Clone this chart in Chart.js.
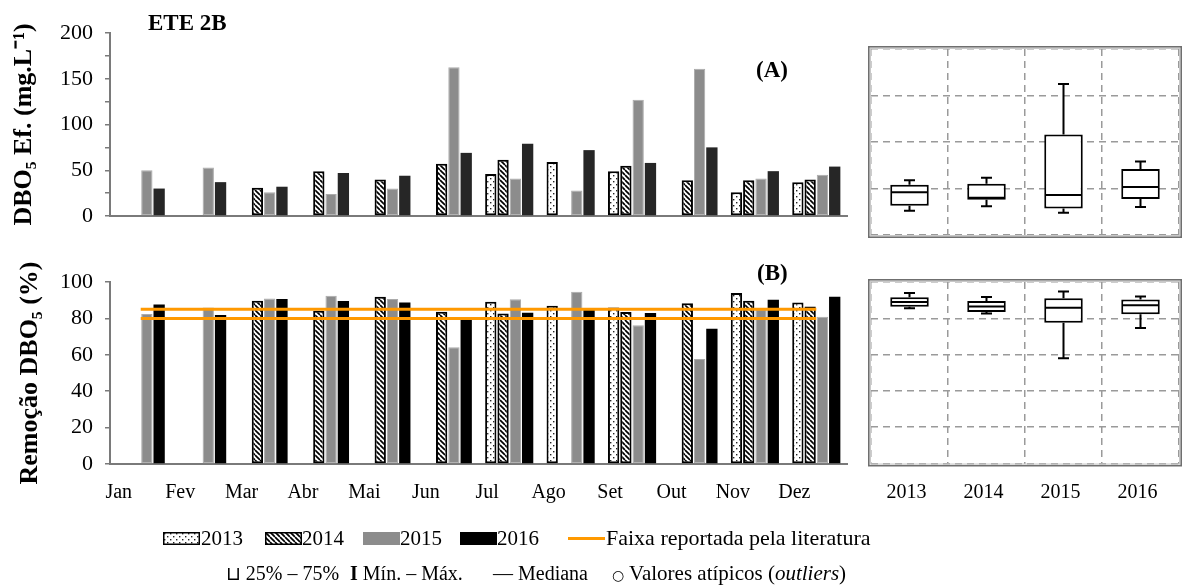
<!DOCTYPE html>
<html><head><meta charset="utf-8">
<script src="https://cdn.jsdelivr.net/npm/chart.js@4.4.1/dist/chart.umd.min.js"></script>
<style>
html,body{margin:0;padding:0;background:#fff;width:1182px;height:587px;overflow:hidden;}
canvas.full{position:absolute;left:0;top:0;width:1182px;height:587px;}
.t{position:absolute;font-family:'Liberation Serif','Times New Roman',serif;color:#000;white-space:nowrap;font-size:21px;line-height:24px;}
.b{font-weight:bold;font-size:23px;}
canvas.sw{position:absolute;}
</style></head><body>
<canvas id="cA" class="full" width="1182" height="587"></canvas>
<canvas id="cB" class="full" width="1182" height="587"></canvas>
<canvas id="cBoxA" class="full" width="1182" height="587"></canvas>
<canvas id="cBoxB" class="full" width="1182" height="587"></canvas>
<div class="t b" style="left:148px;top:11px;">ETE 2B</div>
<div class="t b" style="left:756px;top:58px;">(A)</div>
<div class="t b" style="left:757px;top:261px;">(B)</div>

<canvas class="sw" id="sw13" width="37" height="13" style="left:163px;top:532px;"></canvas>
<div class="t" style="left:201px;top:526px;">2013</div>
<canvas class="sw" id="sw14" width="37" height="13" style="left:265px;top:532px;"></canvas>
<div class="t" style="left:302px;top:526px;">2014</div>
<canvas class="sw" id="sw15" width="37" height="13" style="left:363px;top:532px;"></canvas>
<div class="t" style="left:400px;top:526px;">2015</div>
<canvas class="sw" id="sw16" width="37" height="13" style="left:460px;top:532px;"></canvas>
<div class="t" style="left:497px;top:526px;">2016</div>
<div style="position:absolute;left:568px;top:537px;width:37px;height:3px;background:#FF9900;"></div>
<div class="t" style="left:606px;top:526px;font-size:22px;">Faixa reportada pela literatura</div>

<div class="t" style="left:226px;top:561px;font-size:20px;"><span style="font-family:'DejaVu Sans';font-size:19px;">⊔</span> 25% – 75%</div>
<div class="t" style="left:350px;top:561px;font-size:20px;"><b>I</b> Mín. – Máx.</div>
<div class="t" style="left:493px;top:561px;font-size:20px;">— Mediana</div>
<div class="t" style="left:612px;top:561px;font-size:21px;"><span style="font-family:'DejaVu Sans';font-size:14px;">○</span> Valores atípicos (<i>outliers</i>)</div>

<script>
// ---------- DATA ----------
const months = ['Jan','Fev','Mar','Abr','Mai','Jun','Jul','Ago','Set','Out','Nov','Dez'];
const years = ['2013','2014','2015','2016'];

// (A) DBO5 efluente (mg/L)
const dbo2013 = [null,null,null,null,null,null,46,59,49,null,26,37];
const dbo2014 = [null,null,31,49,40,57,61.5,null,55,39,39,40];
const dbo2015 = [50,53,26,24,30,162.5,41,28,127,161,41,45];
const dbo2016 = [30,37,32,47,44,69,79,72,58,75,49,54];

// (B) Remoção DBO5 (%)
const rem2013 = [null,null,null,null,null,null,89.1,86.9,86,null,93.9,88.8];
const rem2014 = [null,null,89.7,84.2,91.9,83.6,82.7,null,83.5,88.3,89.7,86.6];
const rem2015 = [82.4,86,91,92.5,90.6,64.2,90.5,94.7,76.3,57.7,85,80.9];
const rem2016 = [87.7,81.8,90.6,89.5,88.8,79.4,83.1,85.5,82.9,74.3,90.3,91.9];
const litUpper = [85,85,85,85,85,85,85,85,85,85,85,85];
const litLower = [80,80,80,80,80,80,80,80,80,80,80,80];

// Box plots (A)
const boxA_min = [26,31,24,30];
const boxA_q1  = [31.5,38,28.5,38.8];
const boxA_med = [46,40,43,51.5];
const boxA_q3  = [54,55,108,71];
const boxA_max = [59,61.5,162.5,79];
// Box plots (B)
const boxB_min = [85.5,82.7,58,74.7];
const boxB_q1  = [86.3,83.5,77.6,82.3];
const boxB_med = [89,86.5,85.8,87.2];
const boxB_q3  = [91.6,89.6,91,90.4];
const boxB_max = [93.9,91.8,94.8,92];

const yTicksA = {min:0, max:200, step:25, labelStep:50};
const yTicksB = {min:0, max:100, step:20};

// ---------- PATTERNS ----------
function dotTile(){
  const c=document.createElement('canvas'); c.width=6; c.height=6;
  const g=c.getContext('2d'); g.fillStyle='#fff'; g.fillRect(0,0,6,6);
  g.fillStyle='#222'; g.fillRect(1,1,1.4,1.4); g.fillRect(4,4,1.4,1.4);
  return c;
}
function stripeTile(){
  const c=document.createElement('canvas'); c.width=5; c.height=5;
  const g=c.getContext('2d'); g.fillStyle='#fff'; g.fillRect(0,0,5,5);
  g.strokeStyle='#000'; g.lineWidth=1.7;
  for(const k of [-5,0,5]){ g.beginPath(); g.moveTo(k,0); g.lineTo(k+5,5); g.stroke(); }
  return c;
}
const ctxTmp = document.createElement('canvas').getContext('2d');
const pDots = ctxTmp.createPattern(dotTile(),'repeat');
const pStripes = ctxTmp.createPattern(stripeTile(),'repeat');

function swatch(id, fill, border){
  const c=document.getElementById(id), g=c.getContext('2d');
  g.fillStyle = fill==='dots'? g.createPattern(dotTile(),'repeat') : fill==='stripes'? g.createPattern(stripeTile(),'repeat') : fill;
  g.fillRect(0,0,c.width,c.height);
  if(border){ g.strokeStyle='#000'; g.lineWidth=1.5; g.strokeRect(0.75,0.75,c.width-1.5,c.height-1.5); }
}
swatch('sw13','dots',true); swatch('sw14','stripes',true);
swatch('sw15','#8c8c8c',false); swatch('sw16','#000',false);

Chart.defaults.font.family = "'Liberation Serif','Times New Roman',serif";
Chart.defaults.color = '#000';
Chart.defaults.animation = false;

const GRAY_AX = '#7a7a7a';

function barSets(d13,d14,d15,d16,c16){
  const common = {barPercentage:0.92, categoryPercentage:0.8, order:1};
  return [
    Object.assign({label:'2013', data:d13, backgroundColor:pDots, borderColor:'#000', borderWidth:2, borderSkipped:false}, common),
    Object.assign({label:'2014', data:d14, backgroundColor:pStripes, borderColor:'#000', borderWidth:2, borderSkipped:false}, common),
    Object.assign({label:'2015', data:d15, backgroundColor:'#8c8c8c', borderColor:'#ababab', borderWidth:1, borderSkipped:false}, common),
    Object.assign({label:'2016', data:d16, backgroundColor:c16, borderColor:c16, borderWidth:0}, common)
  ];
}

function yAxis(cfg, title, titlePad, labelFilter){
  return {
    min:cfg.min, max:cfg.max,
    ticks:{stepSize:cfg.step, autoSkip:false, padding:12, color:'#000', font:{size:22},
      callback:(v)=> labelFilter ? (v % labelFilter === 0 ? v : '') : v},
    grid:{drawOnChartArea:false, drawTicks:true, tickLength:5, color:GRAY_AX, lineWidth:1.5},
    border:{display:true, color:GRAY_AX, width:2},
    title:{display:true, text:title, color:'#000', font:{size:26, weight:'bold'}, padding:{top:titlePad, bottom:0}},
    afterFit:(s)=>{ s.width = 110; }
  };
}

// ---------- CHART A (bars) ----------
new Chart(document.getElementById('cA'), {
  type:'bar',
  data:{labels:months, datasets:barSets(dbo2013,dbo2014,dbo2015,dbo2016,'#262626')},
  options:{
    responsive:false, maintainAspectRatio:false,
    layout:{padding:{left:0, top:33, right:335, bottom:371}},
    plugins:{legend:{display:false}, tooltip:{enabled:false}},
    scales:{
      x:{ticks:{display:false}, grid:{display:false, drawTicks:false}, border:{display:true, color:GRAY_AX, width:2},
         afterFit:(s)=>{ s.height = 0; }},
      y:yAxis(yTicksA, 'DBO₅ Ef. (mg.L⁻¹)', 9, yTicksA.labelStep)
    }
  }
});

// ---------- CHART B (bars + literature range) ----------
const dsB = barSets(rem2013,rem2014,rem2015,rem2016,'#000');
dsB.unshift(
  {type:'line', label:'Faixa reportada pela literatura', data:litUpper, borderColor:'#FF9900', borderWidth:3, pointRadius:0, fill:false, order:0},
  {type:'line', label:'Faixa inferior', data:litLower, borderColor:'#FF9900', borderWidth:3, pointRadius:0, fill:false, order:0}
);
new Chart(document.getElementById('cB'), {
  type:'bar',
  data:{labels:months, datasets:dsB},
  options:{
    responsive:false, maintainAspectRatio:false,
    layout:{padding:{left:0, top:282, right:335, bottom:83}},
    plugins:{legend:{display:false}, tooltip:{enabled:false}},
    scales:{
      x:{ticks:{color:'#000', font:{size:20}, padding:17, labelOffset:-22, autoSkip:false, maxRotation:0},
         grid:{display:false, drawTicks:false}, border:{display:true, color:GRAY_AX, width:2},
         afterFit:(s)=>{ s.height = 40; }},
      y:yAxis(yTicksB, 'Remoção DBO₅ (%)', 15, null)
    }
  }
});

// ---------- BOX PLOTS ----------
function boxPlugin(mn, md, mx){
  return {
    id:'boxExtras',
    afterDatasetsDraw(chart){
      const {ctx, chartArea:ca, scales:{y}} = chart;
      const meta = chart.getDatasetMeta(0);
      ctx.save();
      ctx.strokeStyle='#000'; ctx.lineWidth=2; ctx.lineCap='butt';
      meta.data.forEach((bar,i)=>{
        const x = bar.x, hw = bar.width/2, cap = 5.5;
        const yq1 = y.getPixelForValue(chart.data.datasets[0].data[i][0]);
        const yq3 = y.getPixelForValue(chart.data.datasets[0].data[i][1]);
        const ymn = y.getPixelForValue(mn[i]), ymx = y.getPixelForValue(mx[i]), ymd = y.getPixelForValue(md[i]);
        ctx.beginPath();
        ctx.moveTo(x, yq3); ctx.lineTo(x, ymx);
        ctx.moveTo(x-cap, ymx); ctx.lineTo(x+cap, ymx);
        ctx.moveTo(x, yq1); ctx.lineTo(x, ymn);
        ctx.moveTo(x-cap, ymn); ctx.lineTo(x+cap, ymn);
        ctx.moveTo(x-hw+1, ymd); ctx.lineTo(x+hw-1, ymd);
        ctx.stroke();
      });
      ctx.strokeStyle='#6f6f6f'; ctx.lineWidth=1.6;
      ctx.strokeRect(ca.left-2.2, ca.top-2.2, ca.right-ca.left+4.4, ca.bottom-ca.top+4.4);
      ctx.strokeStyle='#c8c8c8'; ctx.lineWidth=1;
      ctx.strokeRect(ca.left-0.5, ca.top-0.5, ca.right-ca.left+1, ca.bottom-ca.top+1);
      ctx.restore();
    }
  };
}
function boxChart(id, q1, q3, mn, md, mx, ycfg, pad, showX){
  new Chart(document.getElementById(id), {
    type:'bar',
    data:{labels:years, datasets:[{data:q1.map((v,i)=>[v,q3[i]]), backgroundColor:'#fff', borderColor:'#000',
      borderWidth:2, borderSkipped:false, barPercentage:0.5, categoryPercentage:1}]},
    options:{
      responsive:false, maintainAspectRatio:false,
      layout:{padding:pad},
      plugins:{legend:{display:false}, tooltip:{enabled:false}},
      scales:{
        x:{ticks:{display:showX, color:'#000', font:{size:20}, padding:17, labelOffset:-3, maxRotation:0},
           grid:{display:true, offset:true, drawTicks:false, color:'#9a9a9a', lineWidth:1.5},
           border:{display:false, dash:[7,5]},
           afterFit:(s)=>{ s.height = showX ? 40 : 0; }},
        y:{min:ycfg.min, max:ycfg.max, ticks:{display:false, stepSize:ycfg.step},
           grid:{display:true, drawTicks:false, color:'#9a9a9a', lineWidth:1.5},
           border:{display:false, dash:[7,5]},
           afterFit:(s)=>{ s.width = 0; }}
      }
    },
    plugins:[boxPlugin(mn, md, mx)]
  });
}
boxChart('cBoxA', boxA_q1, boxA_q3, boxA_min, boxA_med, boxA_max, {min:0,max:200,step:50},
  {left:871, top:49, right:3, bottom:352}, false);
boxChart('cBoxB', boxB_q1, boxB_q3, boxB_min, boxB_med, boxB_max, {min:0,max:100,step:20},
  {left:871, top:282, right:3, bottom:83.5}, true);
</script>
</body></html>
